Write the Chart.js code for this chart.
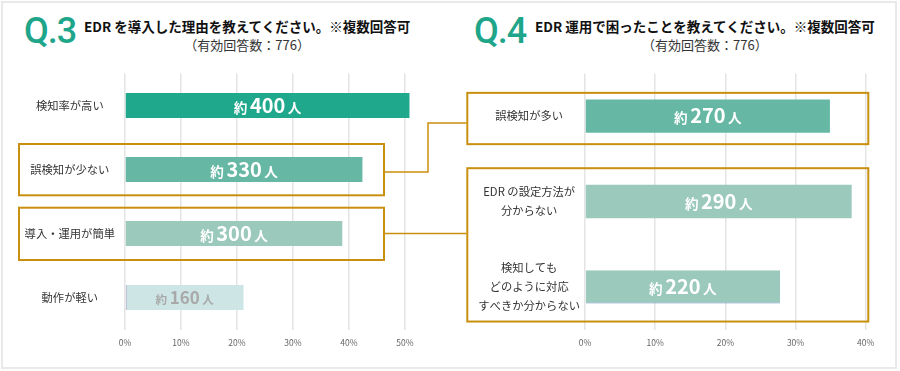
<!DOCTYPE html>
<html lang="ja">
<head>
<meta charset="utf-8">
<script src="https://cdn.jsdelivr.net/npm/chart.js@4.4.1/dist/chart.umd.min.js"></script>
<style>
  html, body { margin:0; padding:0; background:#fff; }
  #wrap { position:relative; width:900px; height:371px; overflow:hidden; background:#fff; font-family:"Noto Sans CJK JP", "Noto Sans", sans-serif; }
  #frame { position:absolute; left:1px; top:1px; width:896px; height:368px; border:2px solid #e9e9e9; box-sizing:border-box; }
  canvas { position:absolute; left:0; top:0; }
  .q { position:absolute; top:13px; font-family:Roboto, "Liberation Sans", Arial, sans-serif; font-weight:500; font-size:36px; line-height:36px; color:#1fa68a; letter-spacing:-1px; }
  .ttl { position:absolute; top:17px; text-align:center; color:#111; }
  .ttl .main { font-size:13.5px; font-weight:bold; line-height:18px; white-space:nowrap; }
  .ttl .sub { font-size:13px; line-height:18px; color:#333; margin-top:1px; white-space:nowrap; }
</style>
</head>
<body>
<div id="wrap">
  <div id="frame"></div>
  <div class="q" style="left:24px;">Q.3</div>
  <div class="ttl" style="left:84px;">
    <div class="main">EDR を導入した理由を教えてください。※複数回答可</div>
    <div class="sub">（有効回答数：776）</div>
  </div>
  <div class="q" style="left:474px;">Q.4</div>
  <div class="ttl" style="left:535px;">
    <div class="main">EDR 運用で困ったことを教えてください。※複数回答可</div>
    <div class="sub">（有効回答数：776）</div>
  </div>
  <canvas id="c3" width="900" height="371"></canvas>
  <canvas id="c4" width="900" height="371"></canvas>
</div>
<script>
// ---- data ----
const q3Labels = ['検知率が高い', '誤検知が少ない', '導入・運用が簡単', '動作が軽い'];
const q3Percent = [50.8, 42.4, 38.8, 21.2];
const q3Counts = [400, 330, 300, 160];
const q3Ticks = [0, 10, 20, 30, 40, 50];

const q4Labels = ['誤検知が多い', ['EDR の設定方法が', '分からない'], ['検知しても', 'どのように対応', 'すべきか分からない']];
const q4Percent = [34.9, 38.0, 27.8];
const q4Counts = [270, 290, 220];
const q4Ticks = [0, 10, 20, 30, 40];

// ---- styles ----
const q3Colors = ['#1fa88c', '#66b8a5', '#9bc9bb', '#cde5e5'];
const q4Colors = ['#66b8a5', '#9bc9bb', '#9bc9bb'];
const q3TextColors = ['#ffffff', '#ffffff', '#ffffff', '#a9a9a9'];
const q4TextColors = ['#ffffff', '#ffffff', '#ffffff'];
const q3NumSizes = [20, 20, 20, 17];
const q4NumSizes = [20, 20, 20];
const GOLD = '#c98f0e';
const FONT = '"Noto Sans CJK JP", "Noto Sans", sans-serif';

Chart.defaults.font.family = FONT;
Chart.defaults.devicePixelRatio = 1;

const valueLabels = {
  id: 'valueLabels',
  afterDatasetsDraw(chart, args, opts) {
    const ctx = chart.ctx;
    const meta = chart.getDatasetMeta(0);
    meta.data.forEach((bar, i) => {
      const big = opts.sizes[i];
      const small = Math.round(big * 0.68 * 10) / 10;
      const num = String(opts.counts[i]);
      ctx.save();
      ctx.fillStyle = opts.colors[i];
      ctx.textBaseline = 'alphabetic';
      ctx.textAlign = 'left';
      ctx.font = `bold ${small}px ${FONT}`;
      const w1 = ctx.measureText('約').width;
      const w3 = ctx.measureText('人').width;
      ctx.font = `bold ${big}px ${FONT}`;
      const w2 = ctx.measureText(num).width;
      const gap = 2.5;
      const total = w1 + gap + w2 + gap + w3;
      const cx = (bar.base + bar.x) / 2;
      let x = cx - total / 2;
      const y = bar.y + big * 0.36;
      ctx.font = `bold ${small}px ${FONT}`;
      ctx.fillText('約', x, y);
      x += w1 + gap;
      ctx.font = `bold ${big}px ${FONT}`;
      ctx.fillText(num, x, y);
      x += w2 + gap;
      ctx.font = `bold ${small}px ${FONT}`;
      ctx.fillText('人', x, y);
      ctx.restore();
    });
  }
};

// highlight boxes: category index range, and pixel margins
const boxes = {
  id: 'boxes',
  afterDraw(chart, args, opts) {
    const ctx = chart.ctx;
    const ys = chart.scales.y;
    ctx.save();
    ctx.strokeStyle = GOLD;
    ctx.lineWidth = 2;
    opts.items.forEach(b => {
      const top = ys.getPixelForValue(b.from) - b.up;
      const bottom = ys.getPixelForValue(b.to) + b.down;
      const left = b.left;
      const right = chart.chartArea.left + b.rightPx;
      ctx.strokeRect(left, top, right - left, bottom - top);
    });
    if (opts.connectors) {
      ctx.lineWidth = 1.5;
      opts.connectors.forEach(pts => {
        ctx.beginPath();
        pts.forEach((p, k) => k ? ctx.lineTo(p[0], p[1]) : ctx.moveTo(p[0], p[1]));
        ctx.stroke();
      });
    }
    ctx.restore();
  }
};

function makeChart(id, labels, values, colors, ticks, max, yWidth, padRight, yPad, labelOpts, boxOpts, borderFn) {
  return new Chart(document.getElementById(id), {
    type: 'bar',
    data: {
      labels: labels,
      datasets: [{
        data: values,
        backgroundColor: colors,
        borderColor: borderFn.color,
        borderWidth: borderFn.width,
        borderSkipped: false,
        barPercentage: 0.39,
        categoryPercentage: 1
      }]
    },
    options: {
      indexAxis: 'y',
      responsive: false,
      animation: false,
      layout: { padding: { top: 73.5, bottom: 0, left: 0, right: padRight } },
      plugins: {
        legend: { display: false },
        tooltip: { enabled: false },
        valueLabels: labelOpts,
        boxes: boxOpts
      },
      scales: {
        x: {
          min: 0, max: max,
          afterBuildTicks: s => { s.ticks = ticks.map(v => ({ value: v })); },
          afterFit: s => { s.height = 41.5; },
          grid: { color: '#e4e4e4', lineWidth: 1.5, drawTicks: false },
          border: { display: false },
          ticks: { color: '#666', font: { size: 8.5 }, padding: 8, callback: v => v + '%', maxRotation: 0 }
        },
        y: {
          afterFit: s => { s.width = yWidth; },
          grid: { display: false, drawTicks: false },
          border: { display: false },
          ticks: { color: '#333', font: { size: 11.3, lineHeight: 1.7 }, padding: yPad, crossAlign: 'center', autoSkip: false }
        }
      }
    },
    plugins: [valueLabels, boxes]
  });
}

makeChart('c3', q3Labels, q3Percent, q3Colors, q3Ticks, 52, 125, 483.8, 10,
  { counts: q3Counts, sizes: q3NumSizes, colors: q3TextColors },
  { items: [ { from: 1, to: 1, up: 25.5, down: 25.8, left: 19, rightPx: 259 },
             { from: 2, to: 2, up: 25.8, down: 26.5, left: 19, rightPx: 259 } ] },
  { color: (c) => c.dataIndex === 3 ? '#a59bc4' : 'rgba(0,0,0,0)',
    width: (c) => c.dataIndex === 3 ? { left: 1, right: 0, top: 0, bottom: 0 } : 0 });

makeChart('c4', q4Labels, q4Percent, q4Colors, q4Ticks, 40, 585, 34.3, 5,
  { counts: q4Counts, sizes: q4NumSizes, colors: q4TextColors },
  { items: [ { from: 0, to: 0, up: 23.3, down: 28, left: 467.3, rightPx: 283.3 },
             { from: 1, to: 2, up: 33.3, down: 34.7, left: 467.3, rightPx: 283.3 } ],
    connectors: [ [[384.5, 172], [428, 172], [428, 123], [466.5, 123]],
                  [[384.5, 233.5], [466.5, 233.5]] ] },
  { color: (c) => c.dataIndex === 2 ? '#6f8fc6' : 'rgba(0,0,0,0)',
    width: (c) => c.dataIndex === 2 ? { left: 0, right: 0, top: 0, bottom: 1 } : 0 });
</script>
</body>
</html>
